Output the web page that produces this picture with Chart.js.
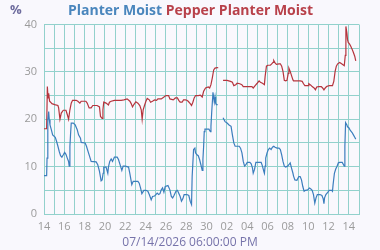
<!DOCTYPE html>
<html>
<head>
<meta charset="utf-8">
<script src="https://cdn.jsdelivr.net/npm/chart.js@4.4.1/dist/chart.umd.min.js"></script>
<style>
  html, body { margin: 0; padding: 0; background: #f9f8fd; }
  #wrap { width: 380px; height: 250px; position: relative; }
</style>
</head>
<body>
<div id="wrap"><canvas id="c" width="380" height="250"></canvas></div>
<script>
// ---- Data (x = days since 06/14 00:00) ----
const titleLeft = "Planter Moist";
const titleRight = "Pepper Planter Moist";
const yUnit = "%";
const xTitle = "07/14/2026 06:00:00 PM";
const startMonth = 5; // June (0-based)
const startDay = 14;
const yTicks = [0, 10, 20, 30, 40];

const pepperDays = [0,0.26,0.33,0.40,0.46,0.55,0.65,0.78,1.05,1.37,1.44,1.57,1.70,1.90,2.16,2.29,2.42,2.55,2.68,2.81,3.17,3.33,3.53,3.66,4.12,4.25,4.44,4.64,4.80,5.23,5.46,5.56,5.72,5.80,5.88,6.11,6.34,6.44,6.61,6.93,7.59,7.86,8.18,8.45,8.58,8.71,8.84,9.04,9.24,9.43,9.57,9.66,9.76,9.89,10.03,10.16,10.36,10.49,10.68,10.88,11.08,11.21,11.54,11.74,12.0,12.26,12.39,12.72,12.93,13.13,13.26,13.40,13.59,13.73,13.92,14.06,14.19,14.39,14.52,14.65,14.78,14.92,15.18,15.38,15.57,15.71,15.90,16.17,16.30,16.43,16.56,16.70,16.83,17.03,17.09,17.3,17.62,18.02,18.35,18.54,18.68,18.87,19.01,19.27,19.47,19.61,20.0,20.46,20.59,20.78,20.98,21.17,21.30,21.50,21.69,21.76,21.89,22.02,22.28,22.41,22.54,22.61,22.74,22.87,23.13,23.26,23.39,23.52,23.65,23.78,23.91,24.04,24.10,24.23,24.36,24.50,24.56,24.89,25.21,25.41,25.54,25.67,25.99,26.06,26.26,26.39,26.58,26.71,26.84,27.03,27.29,27.42,27.55,27.68,27.81,28.06,28.26,28.39,28.52,28.65,28.77,28.90,29.10,29.29,29.42,29.55,29.65,29.71,29.81,29.87,29.94,30.06,30.19,30.32,30.45,30.58,30.68];
const pepperValues = [18.0,18.0,26.9,24.5,25.5,23.8,23.6,23.3,23.1,22.9,22.4,20.0,21.3,21.9,21.9,21.0,20.0,22.0,23.4,24.0,24.0,23.8,23.4,23.8,23.8,23.4,22.4,22.4,22.9,22.9,22.6,20.6,20.2,22.0,23.6,23.4,23.0,23.6,23.8,24.0,24.0,24.1,24.3,23.8,23.3,22.6,23.1,23.7,23.4,22.9,22.0,20.0,22.0,22.9,23.8,24.4,24.1,23.6,23.8,24.1,24.0,24.3,24.3,24.6,25.0,25.0,24.3,24.1,24.5,24.5,24.0,23.6,23.6,24.1,24.1,24.0,23.8,23.3,22.9,23.6,24.5,25.0,25.0,25.1,24.7,25.9,26.6,26.8,26.6,27.3,28.7,30.4,30.8,30.9,31.0,null,28.2,28.2,28.0,27.8,27.1,27.3,27.6,27.5,27.3,26.9,26.9,26.9,26.6,27.1,27.6,28.1,27.8,27.6,27.3,29.0,31.2,31.4,31.4,31.7,32.0,32.4,31.9,31.6,31.7,31.7,31.2,30.1,28.2,28.1,28.2,29.7,30.8,30.1,29.2,28.3,28.1,28.1,28.1,28.0,27.5,27.1,27.1,27.5,27.2,26.9,26.6,26.2,26.8,26.9,26.9,26.6,26.2,26.6,26.9,27.1,27.1,27.1,28.0,30.1,31.2,31.7,32.0,31.7,31.5,31.3,33.5,39.6,38.2,36.8,36.2,35.9,35.4,34.8,34.1,33.3,32.3];

const planterDays = [0,0.26,0.30,0.36,0.39,0.46,0.52,0.59,0.72,0.85,1.11,1.24,1.37,1.50,1.63,1.76,1.90,2.03,2.16,2.29,2.42,2.48,2.55,2.61,2.68,2.88,3.07,3.27,3.40,3.59,3.66,4.05,4.18,4.38,4.51,4.64,5.13,5.29,5.46,5.62,5.72,5.82,5.88,6.11,6.28,6.34,6.47,6.61,6.74,6.93,7.20,7.33,7.53,7.66,7.79,7.99,8.32,8.45,8.64,8.78,9.24,9.37,9.50,9.63,9.83,10.03,10.22,10.36,10.55,10.68,10.88,11.01,11.14,11.28,11.41,11.54,11.67,11.80,11.93,12.20,12.39,12.53,12.66,12.79,12.99,13.13,13.26,13.40,13.53,13.66,13.79,14.06,14.25,14.39,14.52,14.58,14.72,14.85,14.91,15.05,15.18,15.31,15.44,15.57,15.64,15.71,15.77,15.84,16.23,16.37,16.43,16.50,16.63,16.70,16.76,16.83,16.89,16.96,17.09,17.3,17.62,17.82,18.02,18.21,18.41,18.54,18.68,18.81,19.21,19.34,19.48,19.61,19.74,19.87,20.0,20.26,20.39,20.52,20.59,20.72,20.85,21.17,21.37,21.50,21.63,21.69,21.76,21.82,21.95,22.08,22.21,22.35,22.48,22.61,22.74,22.93,23.13,23.26,23.39,23.52,23.65,23.78,23.97,24.10,24.23,24.36,24.50,24.56,24.69,24.89,24.95,25.08,25.21,25.34,25.47,25.60,25.73,25.94,26.13,26.26,26.39,26.52,26.65,26.77,26.90,27.16,27.35,27.48,27.55,27.61,27.74,27.94,28.06,28.32,28.39,28.45,28.58,28.71,28.84,28.97,29.10,29.35,29.48,29.55,29.61,29.68,29.81,29.87,30.0,30.13,30.32,30.45,30.58,30.68];
const planterValues = [8.1,8.1,11.8,11.9,19.9,21.6,19.9,18.8,17.8,16.7,16.2,15.3,14.3,13.2,12.3,12.0,12.5,13.0,12.6,11.8,11.1,10.1,14.3,16.7,19.2,19.2,18.8,17.8,16.7,16.0,15.1,15.0,14.3,12.9,12.0,11.1,11.0,10.4,9.0,7.0,7.2,8.6,9.9,9.9,8.6,9.9,11.1,11.6,11.1,12.0,12.0,11.5,10.1,9.2,10.1,10.1,9.9,8.5,6.2,6.9,6.9,6.5,5.5,4.3,5.0,5.0,4.8,4.1,3.0,3.7,3.8,4.1,4.4,4.1,4.3,5.1,5.5,4.6,5.8,6.0,5.1,3.7,3.4,3.9,4.8,5.0,4.4,3.7,2.7,3.2,4.1,4.1,3.9,2.7,2.0,7.9,13.6,13.9,12.9,12.5,12.3,11.5,10.4,9.2,11.5,14.3,17.4,17.9,17.9,17.4,18.5,21.3,25.7,24.5,23.6,24.7,23.4,23.1,23.1,null,20.3,19.5,19.2,18.8,18.5,16.7,15.0,14.3,14.3,13.9,12.9,11.1,10.1,10.4,10.9,10.9,10.6,9.7,8.6,9.4,10.9,10.9,10.9,10.1,9.0,8.6,10.1,11.8,12.9,13.6,13.9,13.6,14.1,14.3,14.1,13.9,13.9,13.6,12.5,11.1,10.1,9.9,10.1,10.4,10.8,9.7,8.6,8.0,7.2,7.1,7.4,7.9,7.9,7.2,5.8,4.8,5.0,5.1,5.5,5.3,5.0,4.1,2.3,3.4,4.1,4.1,3.9,3.2,2.2,3.4,4.1,4.6,5.0,5.0,4.8,6.2,8.6,9.5,10.1,10.8,10.9,10.9,10.4,10.1,14.3,19.3,18.8,18.4,18.2,17.7,17.2,16.7,16.2,15.8];

// ---- Styles ----
const BLUE = '#3b7dbd';
const RED = '#b5343d';
const GRID = '#92d1cc';
const TICK = '#9b9b9b';
const FONT = "'Open Sans', sans-serif";

function toXY(xs, ys) { return xs.map((x, i) => ({ x: x, y: ys[i] })); }
function dayLabel(v) {
  const d = new Date(2026, startMonth, startDay + v);
  return String(d.getDate()).padStart(2, '0');
}

const textPlugin = {
  id: 'texts',
  beforeDraw(chart) {
    const ctx = chart.ctx;
    ctx.save();
    ctx.fillStyle = '#f9f8fd';
    ctx.fillRect(0, 0, chart.width, chart.height);
    ctx.restore();
  },
  afterDraw(chart) {
    const ctx = chart.ctx;
    ctx.save();
    ctx.textBaseline = 'alphabetic';
    ctx.font = "bold 14px " + FONT;
    const space = ctx.measureText(' ').width;
    const w1 = ctx.measureText(titleLeft).width;
    const w2 = ctx.measureText(titleRight).width;
    const total = w1 + space + w2;
    let x = 190.5 - total / 2;
    ctx.textAlign = 'left';
    ctx.fillStyle = '#4a86bd';
    ctx.fillText(titleLeft, x, 15);
    ctx.fillStyle = '#b8414a';
    ctx.fillText(titleRight, x + w1 + space, 15);
    ctx.font = "bold 13px " + FONT;
    ctx.fillStyle = '#6e6c9e';
    ctx.fillText(yUnit, 10, 13.5);
    ctx.font = "12px " + FONT;
    ctx.fillStyle = '#7673aa';
    ctx.textAlign = 'center';
    ctx.fillText(xTitle, 190, 246);
    ctx.restore();
  }
};

new Chart(document.getElementById('c'), {
  type: 'line',
  data: {
    datasets: [
      { label: titleLeft, data: toXY(planterDays, planterValues), borderColor: BLUE, borderWidth: 1.2, pointRadius: 0, tension: 0, spanGaps: false, fill: false },
      { label: titleRight, data: toXY(pepperDays, pepperValues), borderColor: RED, borderWidth: 1.2, pointRadius: 0, tension: 0, spanGaps: false, fill: false }
    ]
  },
  options: {
    responsive: false,
    animation: false,
    devicePixelRatio: 1,
    layout: { padding: { top: 24.5, right: 21, left: 0, bottom: 0 } },
    plugins: { legend: { display: false }, title: { display: false }, tooltip: { enabled: false } },
    scales: {
      x: {
        type: 'linear', min: 0, max: 31,
        afterBuildTicks(scale) { const t = []; for (let i = 0; i <= 31; i++) t.push({ value: i }); scale.ticks = t; },
        afterFit(scale) { scale.height = 36; },
        grid: { color: GRID, lineWidth: 1, drawTicks: false },
        border: { color: GRID, width: 1 },
        ticks: { autoSkip: false, maxRotation: 0, padding: 6, color: TICK, font: { family: FONT, size: 11 },
          callback: (v) => (v % 2 === 0 && v <= 30) ? dayLabel(v) : '' }
      },
      y: {
        min: 0, max: 40,
        afterBuildTicks(scale) { const t = []; for (let i = 0; i <= 40; i += 5) t.push({ value: i }); scale.ticks = t; },
        afterFit(scale) { scale.width = 44; },
        grid: { color: GRID, lineWidth: 1, drawTicks: false },
        border: { color: GRID, width: 1 },
        ticks: { padding: 7, color: TICK, font: { family: FONT, size: 11 },
          callback: (v) => yTicks.includes(v) ? String(v) : '' }
      }
    }
  },
  plugins: [textPlugin]
});
</script>
</body>
</html>
